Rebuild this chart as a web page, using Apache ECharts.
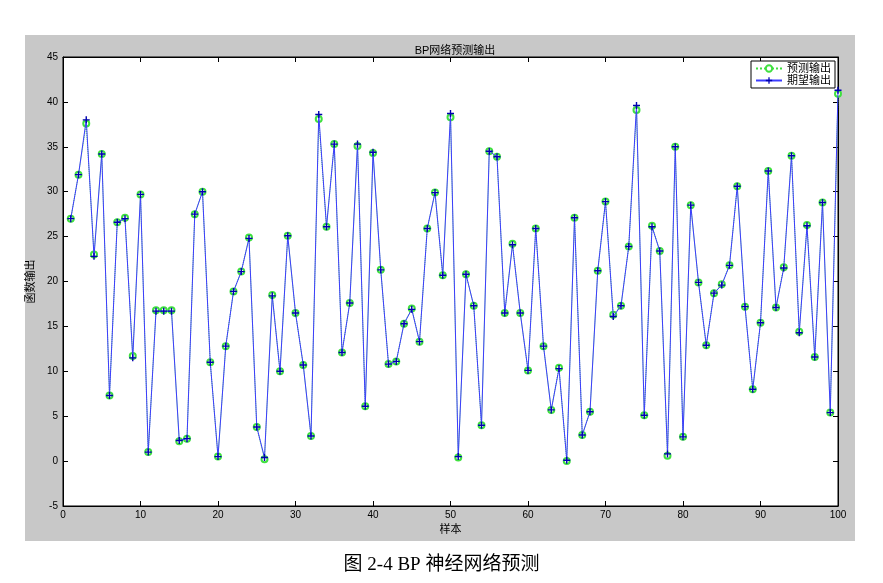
<!DOCTYPE html>
<html><head><meta charset="utf-8">
<script src="https://cdn.jsdelivr.net/npm/echarts@6/dist/echarts.min.js"></script>
<style>html,body{margin:0;background:#fff}#container{width:883px;height:583px}</style>
</head><body><div id="container"></div>
<script>
// 期望输出 (expected), samples 1..100
var expected = [27, 31.9, 38, 22.8, 34.2, 7.3, 26.6, 27, 11.5, 29.7,
    1, 16.7, 16.7, 16.7, 2.3, 2.5, 27.5, 30, 11, 0.5,
    12.8, 18.9, 21.1, 24.8, 3.8, 0.4, 18.4, 10, 25.1, 16.5,
    10.7, 2.8, 38.6, 26.1, 35.3, 12.1, 17.6, 35.3, 6.1, 34.4,
    21.3, 10.8, 11.1, 15.3, 16.9, 13.3, 25.9, 29.9, 20.7, 38.7,
    0.5, 20.8, 17.3, 4, 34.5, 33.9, 16.5, 24.1, 16.5, 10.1,
    25.9, 12.8, 5.7, 10.3, 0.1, 27.1, 2.9, 5.5, 21.2, 28.9,
    16.1, 17.3, 23.9, 39.6, 5.1, 26.1, 23.4, 0.8, 35, 2.7,
    28.5, 19.9, 12.9, 18.7, 19.6, 21.8, 30.6, 17.2, 8, 15.4,
    32.3, 17.1, 21.5, 34, 14.3, 26.2, 11.6, 28.8, 5.4, 41.3]
// 预测输出 (predicted)
var predicted = [27, 31.9, 37.6, 23, 34.2, 7.3, 26.6, 27.1, 11.7, 29.7,
    1, 16.8, 16.8, 16.8, 2.2, 2.5, 27.5, 30, 11, 0.5,
    12.8, 18.9, 21.1, 24.9, 3.8, 0.2, 18.5, 10, 25.1, 16.5,
    10.7, 2.8, 38.1, 26.1, 35.3, 12.1, 17.6, 35.1, 6.1, 34.3,
    21.3, 10.8, 11.1, 15.3, 17, 13.3, 25.9, 29.9, 20.7, 38.3,
    0.4, 20.8, 17.3, 4, 34.5, 33.9, 16.5, 24.2, 16.5, 10.1,
    25.9, 12.8, 5.7, 10.4, 0, 27.1, 2.9, 5.5, 21.2, 28.9,
    16.3, 17.3, 23.9, 39.1, 5.1, 26.2, 23.4, 0.6, 35, 2.7,
    28.5, 19.9, 12.9, 18.7, 19.7, 21.8, 30.6, 17.2, 8, 15.4,
    32.3, 17.1, 21.6, 34, 14.4, 26.3, 11.6, 28.8, 5.4, 40.9]
var samples = expected.map(function (v, i) { return i + 1 })

var plus = 'path://M-0.2,-1L0.2,-1L0.2,-0.2L1,-0.2L1,0.2L0.2,0.2L0.2,1L-0.2,1L-0.2,0.2L-1,0.2L-1,-0.2L-0.2,-0.2Z'
var font = 'Arial, "Noto Sans CJK SC", sans-serif'

function pairs(arr) { return arr.map(function (v, i) { return [samples[i], v] }) }

var myChart = echarts.init(document.getElementById('container'))
var axisBase = {
    type: 'value', splitLine: { show: false },
    axisLine: { onZero: false, lineStyle: { color: '#000', width: 1 } },
    axisTick: { inside: true, length: 5, lineStyle: { color: '#000' } }
}
myChart.setOption({
    animation: false,
    backgroundColor: '#fff',
    graphic: [
        { type: 'rect', z: -10, shape: { x: 25, y: 35, width: 830, height: 506 }, style: { fill: '#c8c8c8' } },
        { type: 'text', left: 'center', top: 556, style: { text: '图 2-4 BP 神经网络预测', font: '19px "Liberation Serif", "Noto Sans CJK SC", serif', fill: '#000' } }
    ],
    title: {
        text: 'BP网络预测输出', left: 450, top: 40, textAlign: 'center',
        textStyle: { fontSize: 11, fontWeight: 'normal', color: '#000', fontFamily: font }
    },
    legend: {
        right: 48, top: 61, orient: 'vertical', itemGap: 1, itemWidth: 26, itemHeight: 8,
        backgroundColor: '#fff', borderColor: '#000', borderWidth: 1, padding: [2, 4, 2, 4], borderRadius: 0,
        textStyle: { fontSize: 11, color: '#000', fontFamily: font }
    },
    grid: { left: 63, right: 45, top: 57, bottom: 77, show: true, backgroundColor: '#fff', borderColor: '#000', borderWidth: 1 },
    xAxis: [
        Object.assign({}, axisBase, {
            min: 0, max: 100, interval: 10, name: '样本', nameLocation: 'middle', nameGap: 16,
            nameTextStyle: { fontSize: 11, color: '#000', fontFamily: font },
            axisLabel: { fontSize: 10, color: '#000', margin: 4, fontFamily: font }
        }),
        Object.assign({}, axisBase, { position: 'top', min: 0, max: 100, interval: 10, axisLabel: { show: false } })
    ],
    yAxis: [
        Object.assign({}, axisBase, {
            min: -5, max: 45, interval: 5, name: '函数输出', nameLocation: 'middle', nameGap: 24,
            nameTextStyle: { fontSize: 11, color: '#000', fontFamily: font },
            axisLabel: { fontSize: 10, color: '#000', margin: 5, fontFamily: font }
        }),
        Object.assign({}, axisBase, { position: 'right', min: -5, max: 45, interval: 5, axisLabel: { show: false } })
    ],
    series: [
        {
            name: '预测输出', type: 'line', data: pairs(predicted), z: 1,
            symbol: 'emptyCircle', symbolSize: 6, showAllSymbol: true,
            lineStyle: { color: '#40e040', width: 1, type: 'dotted' },
            itemStyle: { color: '#40e040', borderWidth: 1 }
        },
        {
            name: '期望输出', type: 'line', data: pairs(expected), z: 3,
            symbol: plus, symbolSize: 7, showAllSymbol: true,
            lineStyle: { color: '#3c3cff', width: 1 },
            itemStyle: { color: '#0000b0' }
        }
    ]
})
</script></body></html>
